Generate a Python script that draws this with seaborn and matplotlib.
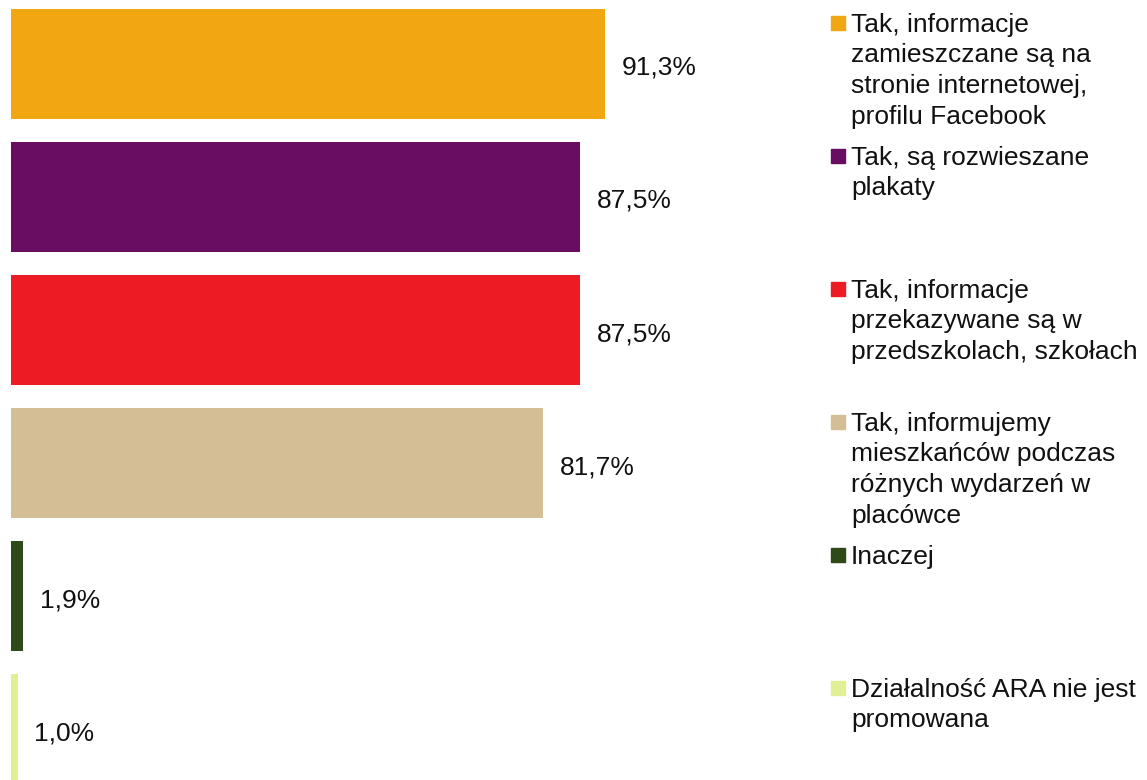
import numpy as np
import pandas as pd
import matplotlib
matplotlib.use("Agg")
import matplotlib.pyplot as plt
import matplotlib.transforms as mtransforms
import seaborn as sns

kategorie = [
    "Tak, informacje\nzamieszczane są na\nstronie internetowej,\nprofilu Facebook",
    "Tak, są rozwieszane\nplakaty",
    "Tak, informacje\nprzekazywane są w\nprzedszkolach, szkołach",
    "Tak, informujemy\nmieszkańców podczas\nróżnych wydarzeń w\nplacówce",
    "Inaczej",
    "Działalność ARA nie jest\npromowana",
]
wartosci = [91.3, 87.5, 87.5, 81.7, 1.9, 1.0]
kolory = ["#F1A712", "#690D63", "#ED1C24", "#D3BE96", "#2F4A19", "#E1F095"]

df = pd.DataFrame({"kategoria": kategorie, "wartosc": wartosci})

sns.set_theme(style="white")
plt.rcParams["font.family"] = ["Liberation Sans", "DejaVu Sans"]

fig = plt.figure(figsize=(11.47, 7.8), dpi=100)
ax = fig.add_axes([11 / 1147, 0, 650.6 / 1147, 1])

sns.barplot(
    data=df,
    x="wartosc",
    y="kategoria",
    hue="kategoria",
    palette=kolory,
    order=kategorie,
    hue_order=kategorie,
    orient="h",
    width=0.827,
    saturation=1,
    linewidth=0,
    legend=False,
    ax=ax,
)

ax.set_xlim(0, 100)
ax.set_ylim(5.383, -0.481)
ax.axis("off")

# etykiety wartosci
for i, v in enumerate(wartosci):
    ax.text(v + 2.6, i + 0.03, f"{v:.1f}%".replace(".", ","),
            va="center", ha="left", fontsize=19, color="#111111")

# legenda ustawiona obok slupkow
tr = mtransforms.blended_transform_factory(fig.transFigure, ax.transData)
for i, (k, c) in enumerate(zip(kategorie, kolory)):
    ax.plot([838 / 1147], [i - 0.308], marker="s", markersize=10.5,
            color=c, transform=tr, clip_on=False, linestyle="none")
    ax.text(851 / 1147, i - 0.385, k, transform=tr, va="top", ha="left",
            fontsize=19, color="#111111", linespacing=1.35)

fig.savefig("out.png", dpi=100)
